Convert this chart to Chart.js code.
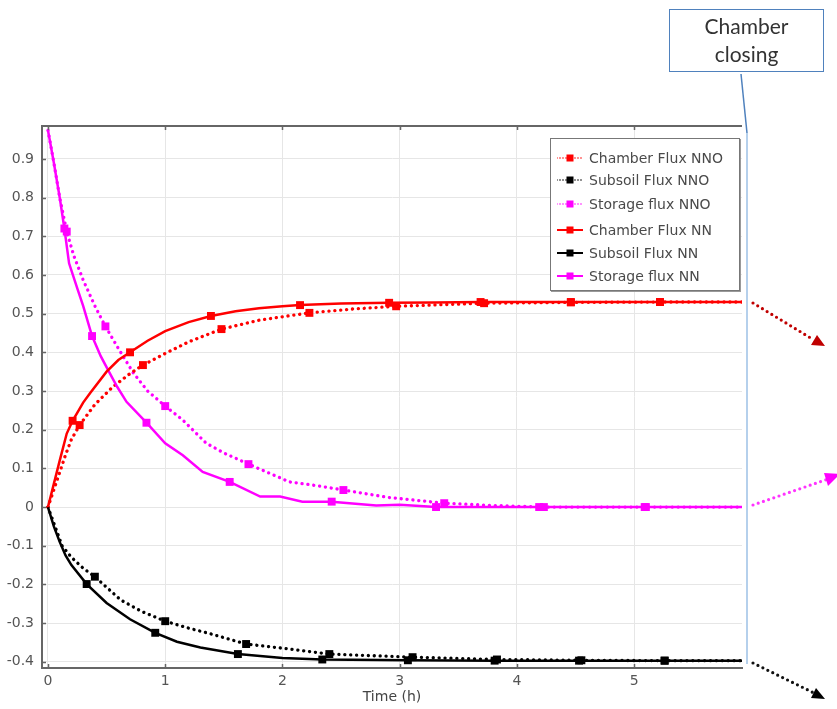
<!DOCTYPE html>
<html lang="en">
<head>
    <meta charset="UTF-8">
    <title>Chamber / Subsoil / Storage flux</title>
    <style>
        body {
            margin: 0;
            padding: 0;
            background-color: #fff;
            font-family: "DejaVu Sans", Arial, sans-serif;
        }

        .page {
            position: relative;
            width: 837px;
            height: 709px;
            overflow: hidden;
        }

        #fluxChart {
            position: absolute;
            left: 0;
            top: 0;
        }

        .legend {
            position: absolute;
            left: 550px;
            top: 138px;
            width: 188px;
            height: 151px;
            border: 1px solid #777;
            box-shadow: 1px 1px 0 #999;
            background-color: #fff;
        }

        .legend-row {
            position: absolute;
            left: 6px;
            height: 18px;
            display: flex;
            align-items: center;
            font-size: 14px;
            color: #4a4a4a;
            white-space: nowrap;
        }

        .legend-row svg {
            margin-right: 6px;
        }

        .note {
            position: absolute;
            left: 669px;
            top: 9px;
            width: 153px;
            height: 59px;
            border: 1.5px solid #4f81bd;
            font-family: Lato, "Open Sans", sans-serif;
            font-size: 21px;
            line-height: 28px;
            color: #333;
            text-align: center;
            padding-top: 2px;
            box-sizing: content-box;
        }

        .overlay {
            position: absolute;
            left: 0;
            top: 0;
        }
    </style>
</head>
<body>
    <div class="page">
        <canvas id="fluxChart" width="837" height="709"></canvas>
        <div class="legend" id="legend"></div>
        <div class="note">Chamber<br>closing</div>
        <svg class="overlay" width="837" height="709">
            <line x1="741" y1="74" x2="747" y2="133" stroke="#4f81bd" stroke-width="1.5"/>
            <line x1="747" y1="133" x2="747" y2="664" stroke="#9cc0e6" stroke-width="1.5"/>
            <line x1="753" y1="303" x2="814" y2="340" stroke="#c00000" stroke-width="3.2" stroke-linecap="round" stroke-dasharray="0 5.5"/>
            <polygon points="825,346 811,345 817,335" fill="#c00000"/>
            <line x1="753" y1="505" x2="828" y2="479" stroke="#ff33ff" stroke-width="3.2" stroke-linecap="round" stroke-dasharray="0 5.5"/>
            <polygon points="840,474 828,486 824,473" fill="#ff00ff"/>
            <line x1="753" y1="663" x2="814" y2="693" stroke="#111" stroke-width="3.2" stroke-linecap="round" stroke-dasharray="0 5.5"/>
            <polygon points="825,699 811,698 816,688" fill="#000"/>
        </svg>
    </div>

    <script src="https://cdn.jsdelivr.net/npm/chart.js"></script>
    <script>
        // curves (time in h)
        const chamberNnoT = [0, 0.05, 0.1, 0.15, 0.2, 0.27, 0.4, 0.55, 0.7, 0.81, 1.0, 1.2, 1.48, 1.8, 2.23, 2.6, 2.97, 3.72, 4.46, 5.22, 5.92];
        const chamberNnoV = [0, 0.045, 0.09, 0.135, 0.175, 0.212, 0.265, 0.31, 0.345, 0.367, 0.397, 0.427, 0.46, 0.483, 0.502, 0.512, 0.519, 0.527, 0.529, 0.53, 0.53];

        const chamberNnT = [0, 0.05, 0.1, 0.16, 0.21, 0.3, 0.36, 0.5, 0.6, 0.7, 0.85, 1.0, 1.2, 1.39, 1.6, 1.8, 2.0, 2.15, 2.5, 2.91, 3.3, 3.69, 4.46, 5.22, 5.92];
        const chamberNnV = [0, 0.06, 0.12, 0.19, 0.223, 0.27, 0.295, 0.35, 0.38, 0.40, 0.43, 0.455, 0.478, 0.494, 0.506, 0.514, 0.519, 0.522, 0.526, 0.528, 0.529, 0.53, 0.53, 0.53, 0.53];

        const storageNnoT = [0, 0.05, 0.1, 0.16, 0.22, 0.3, 0.4, 0.49, 0.6, 0.73, 0.85, 1.0, 1.15, 1.35, 1.5, 1.71, 2.06, 2.3, 2.52, 2.9, 3.38, 3.8, 4.23, 5.1, 5.92];
        const storageNnoV = [0.974, 0.89, 0.80, 0.712, 0.65, 0.587, 0.52, 0.467, 0.41, 0.346, 0.30, 0.261, 0.225, 0.165, 0.14, 0.111, 0.065, 0.055, 0.044, 0.025, 0.01, 0.004, 0, 0, 0];

        const storageNnT = [0, 0.05, 0.1, 0.14, 0.18, 0.25, 0.3, 0.376, 0.45, 0.52, 0.59, 0.67, 0.84, 1.0, 1.15, 1.32, 1.55, 1.81, 1.98, 2.17, 2.42, 2.8, 3.0, 3.31, 4.19, 5.09, 5.92];
        const storageNnV = [0.974, 0.89, 0.80, 0.72, 0.63, 0.565, 0.52, 0.442, 0.39, 0.35, 0.311, 0.272, 0.218, 0.165, 0.134, 0.091, 0.065, 0.027, 0.027, 0.014, 0.014, 0.004, 0.006, 0, 0, 0, 0];

        const subsoilNnoT = [0, 0.06, 0.12, 0.2, 0.3, 0.4, 0.62, 0.8, 1.0, 1.2, 1.38, 1.69, 2.06, 2.4, 3.11, 3.83, 4.55, 5.26, 5.92];
        const subsoilNnoV = [0, -0.05, -0.1, -0.13, -0.158, -0.18, -0.24, -0.27, -0.295, -0.313, -0.327, -0.354, -0.367, -0.38, -0.388, -0.394, -0.396, -0.397, -0.397];

        const subsoilNnT = [0, 0.05, 0.1, 0.15, 0.2, 0.33, 0.5, 0.7, 0.915, 1.1, 1.3, 1.62, 2.0, 2.34, 3.07, 3.81, 4.53, 5.26, 5.92];
        const subsoilNnV = [0, -0.05, -0.09, -0.125, -0.15, -0.199, -0.248, -0.29, -0.325, -0.348, -0.363, -0.38, -0.39, -0.394, -0.396, -0.397, -0.397, -0.397, -0.397];

        // square markers along each curve
        const chamberNnoMarkT = [0.27, 0.81, 1.48, 2.23, 2.97, 3.72, 4.46, 5.22];
        const chamberNnoMarkV = [0.212, 0.367, 0.46, 0.502, 0.519, 0.527, 0.529, 0.53];
        const chamberNnMarkT = [0.21, 0.70, 1.39, 2.15, 2.91, 3.69, 4.46, 5.22];
        const chamberNnMarkV = [0.223, 0.40, 0.494, 0.522, 0.528, 0.53, 0.53, 0.53];
        const storageNnoMarkT = [0.16, 0.49, 1.0, 1.71, 2.52, 3.38, 4.23, 5.1];
        const storageNnoMarkV = [0.712, 0.467, 0.261, 0.111, 0.044, 0.01, 0, 0];
        const storageNnMarkT = [0.14, 0.376, 0.84, 1.55, 2.42, 3.31, 4.19, 5.09];
        const storageNnMarkV = [0.72, 0.442, 0.218, 0.065, 0.014, 0, 0, 0];
        const subsoilNnoMarkT = [0.40, 1.0, 1.69, 2.40, 3.11, 3.83, 4.55, 5.26];
        const subsoilNnoMarkV = [-0.18, -0.295, -0.354, -0.38, -0.388, -0.394, -0.396, -0.397];
        const subsoilNnMarkT = [0.33, 0.915, 1.62, 2.34, 3.07, 3.81, 4.53, 5.26];
        const subsoilNnMarkV = [-0.199, -0.325, -0.38, -0.394, -0.396, -0.397, -0.397, -0.397];

        const xTicks = [0, 1, 2, 3, 4, 5];
        const yTicks = [-0.4, -0.3, -0.2, -0.1, 0, 0.1, 0.2, 0.3, 0.4, 0.5, 0.6, 0.7, 0.8, 0.9];

        const seriesNames = ['Chamber Flux NNO', 'Subsoil Flux NNO', 'Storage flux NNO', 'Chamber Flux NN', 'Subsoil Flux NN', 'Storage flux NN'];

        function toPoints(ts, vs) {
            return ts.map((t, i) => ({ x: t, y: vs[i] }));
        }

        function curve(ts, vs, color, dotted) {
            return {
                data: toPoints(ts, vs),
                borderColor: color,
                borderWidth: dotted ? 3.3 : 2.5,
                borderDash: dotted ? [0.1, 5.8] : [],
                borderCapStyle: dotted ? 'round' : 'butt',
                pointRadius: 0,
                tension: 0,
                fill: false
            };
        }

        function marks(ts, vs, color) {
            return {
                data: toPoints(ts, vs),
                showLine: false,
                pointStyle: 'rect',
                pointRadius: 5.6,
                pointBackgroundColor: color,
                pointBorderColor: color,
                pointBorderWidth: 0
            };
        }

        // top frame line plus the small inward tick marks
        const framePlugin = {
            id: 'frame',
            afterDraw(chart) {
                const ctx = chart.ctx;
                const area = chart.chartArea;
                const xs = chart.scales.x;
                const ys = chart.scales.y;
                ctx.save();
                ctx.strokeStyle = '#666';
                ctx.lineWidth = 2;
                ctx.beginPath();
                ctx.moveTo(area.left, area.top);
                ctx.lineTo(area.right, area.top);
                ctx.stroke();
                ctx.lineWidth = 1.5;
                ctx.beginPath();
                xTicks.forEach(v => {
                    const px = Math.round(xs.getPixelForValue(v)) + 0.5;
                    ctx.moveTo(px, area.top);
                    ctx.lineTo(px, area.top + 4);
                    ctx.moveTo(px, area.bottom);
                    ctx.lineTo(px, area.bottom - 4);
                });
                yTicks.forEach(v => {
                    const py = Math.round(ys.getPixelForValue(v)) + 0.5;
                    ctx.moveTo(area.left, py);
                    ctx.lineTo(area.left + 4, py);
                });
                ctx.stroke();
                ctx.restore();
            }
        };

        const ctx = document.getElementById('fluxChart').getContext('2d');
        const fluxChart = new Chart(ctx, {
            type: 'line',
            data: {
                datasets: [
                    marks(chamberNnMarkT, chamberNnMarkV, '#ff0000'),
                    marks(chamberNnoMarkT, chamberNnoMarkV, '#ff0000'),
                    marks(storageNnMarkT, storageNnMarkV, '#ff00ff'),
                    marks(storageNnoMarkT, storageNnoMarkV, '#ff00ff'),
                    marks(subsoilNnMarkT, subsoilNnMarkV, '#000000'),
                    marks(subsoilNnoMarkT, subsoilNnoMarkV, '#000000'),
                    curve(chamberNnT, chamberNnV, '#ff0000', false),
                    curve(storageNnT, storageNnV, '#ff00ff', false),
                    curve(subsoilNnT, subsoilNnV, '#000000', false),
                    curve(chamberNnoT, chamberNnoV, '#ff0000', true),
                    curve(storageNnoT, storageNnoV, '#ff00ff', true),
                    curve(subsoilNnoT, subsoilNnoV, '#000000', true)
                ]
            },
            options: {
                responsive: false,
                animation: false,
                devicePixelRatio: 1,
                layout: {
                    padding: { top: 126, right: 95, left: 0, bottom: 0 }
                },
                plugins: {
                    legend: { display: false },
                    tooltip: { enabled: false }
                },
                scales: {
                    x: {
                        type: 'linear',
                        min: -0.051,
                        max: 5.92,
                        afterFit: scale => { scale.height = 41; },
                        afterBuildTicks: scale => { scale.ticks = xTicks.map(v => ({ value: v })); },
                        grid: { color: '#e6e6e6', tickLength: 0 },
                        border: { color: '#666', width: 2 },
                        ticks: {
                            padding: 5,
                            color: '#555',
                            font: { family: 'DejaVu Sans', size: 14 }
                        },
                        title: {
                            display: true,
                            text: 'Time (h)',
                            color: '#444',
                            padding: { top: 0, bottom: 3 },
                            font: { family: 'DejaVu Sans', size: 14 }
                        }
                    },
                    y: {
                        type: 'linear',
                        min: -0.416,
                        max: 0.985,
                        afterFit: scale => { scale.width = 42; },
                        afterBuildTicks: scale => { scale.ticks = yTicks.map(v => ({ value: v })); },
                        grid: { color: '#e6e6e6', tickLength: 0 },
                        border: { color: '#666', width: 2 },
                        ticks: {
                            padding: 8,
                            color: '#555',
                            font: { family: 'DejaVu Sans', size: 14 },
                            callback: v => Math.abs(v) < 1e-9 ? '0' : String(Math.round(v * 10) / 10)
                        }
                    }
                }
            },
            plugins: [framePlugin]
        });

        // legend entries: dotted for NNO, solid for NN
        const legendColors = ['#ff0000', '#000000', '#ff00ff', '#ff0000', '#000000', '#ff00ff'];
        const legendTops = [10, 32, 56, 82, 105, 128];
        const legend = document.getElementById('legend');
        seriesNames.forEach((name, i) => {
            const dotted = i < 3;
            const row = document.createElement('div');
            row.className = 'legend-row';
            row.style.top = legendTops[i] + 'px';
            const c = legendColors[i];
            const dash = dotted ? 'stroke-dasharray="0 3" stroke-linecap="round" stroke-width="1.6"' : 'stroke-width="2"';
            row.innerHTML = '<svg width="26" height="10"><line x1="0" y1="5" x2="26" y2="5" stroke="' + c + '" ' + dash + '/>' +
                '<rect x="9.5" y="1.5" width="7" height="7" fill="' + c + '"/></svg><span>' + name + '</span>';
            legend.appendChild(row);
        });
    </script>
</body>
</html>
